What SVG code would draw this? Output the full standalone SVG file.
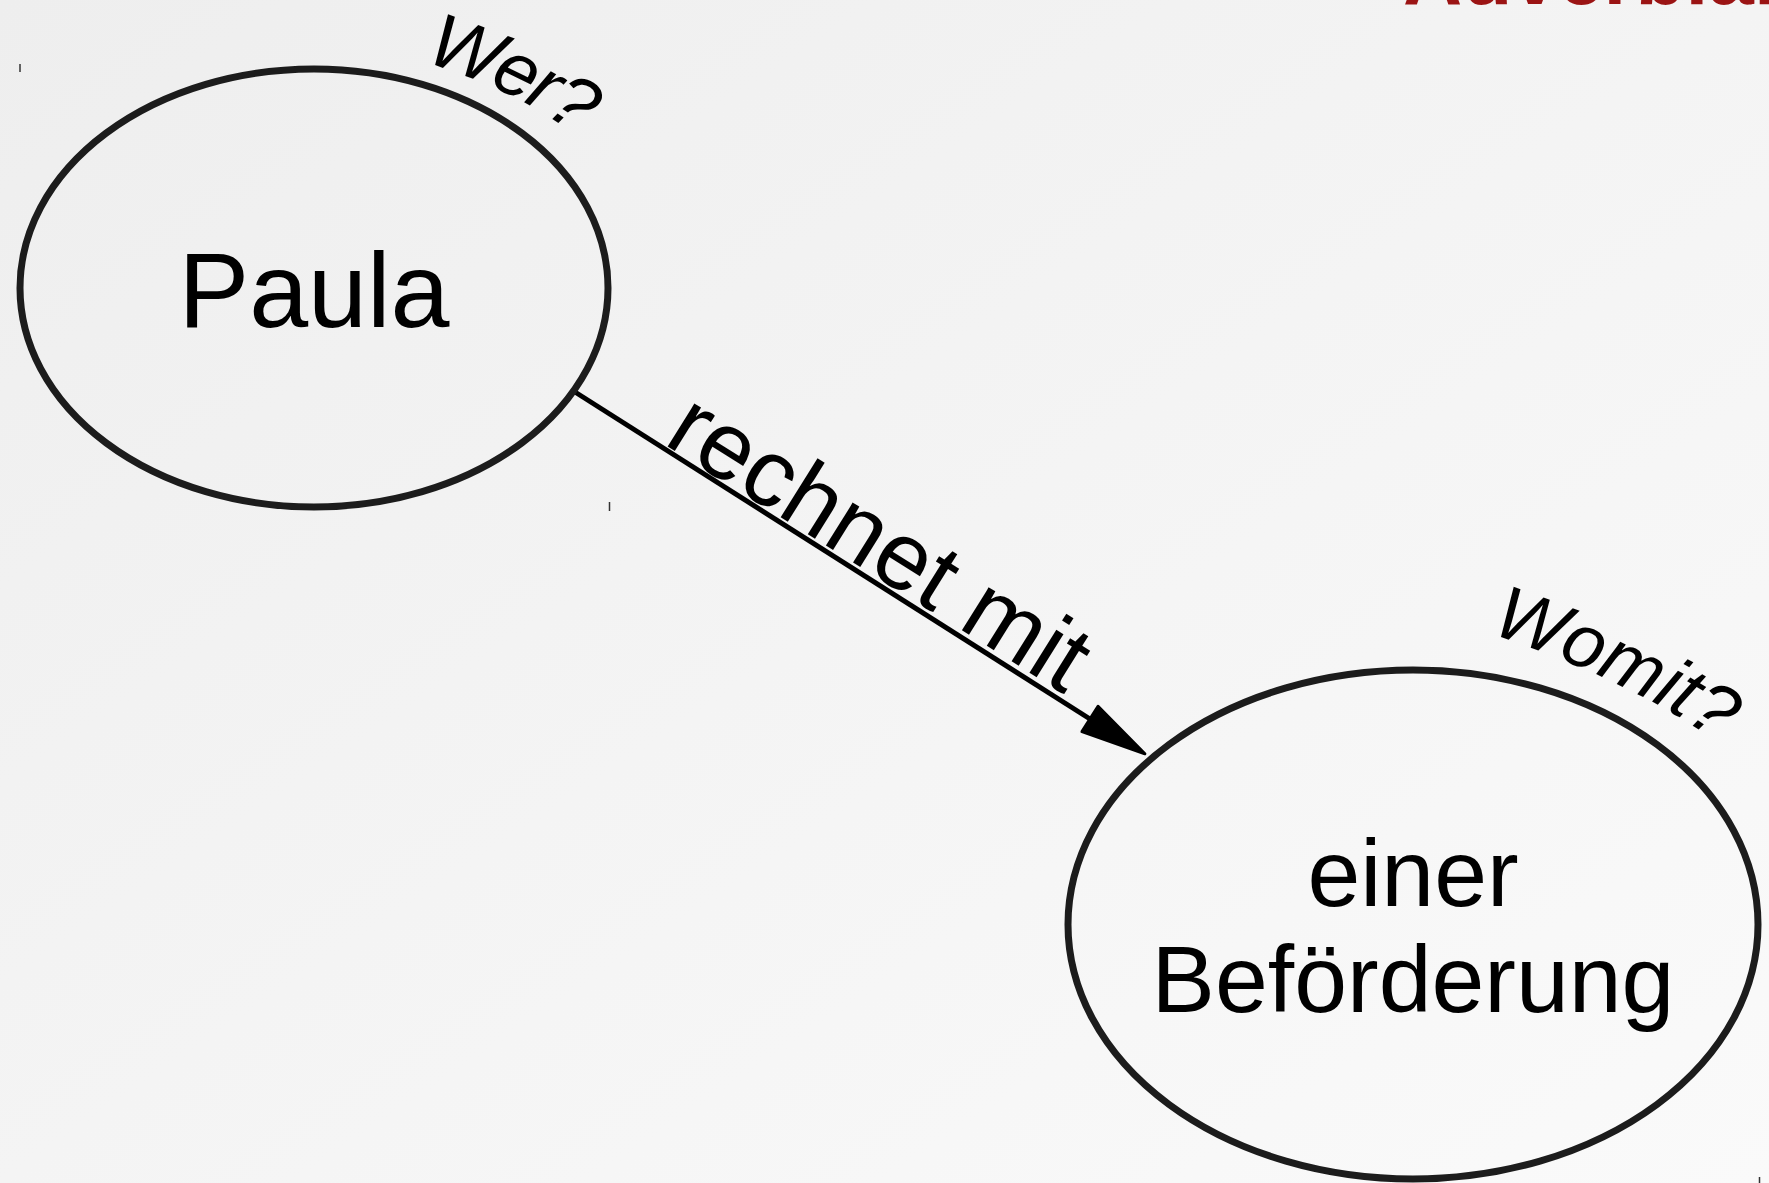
<svg xmlns="http://www.w3.org/2000/svg" width="1769" height="1183" viewBox="0 0 1769 1183">
  <defs>
    <linearGradient id="bg" x1="0" y1="0" x2="1" y2="1">
      <stop offset="0" stop-color="#eeeeee"/>
      <stop offset="1" stop-color="#fafafa"/>
    </linearGradient>
    <marker id="arrow" markerUnits="userSpaceOnUse" markerWidth="80" markerHeight="40" viewBox="-4 -20 76 40" refX="0" refY="0" orient="auto">
      <path d="M0,-15 L65,0 L0,15 Z" fill="#000" stroke="#000" stroke-width="3" stroke-linejoin="round"/>
    </marker>
    <style>
      .node { fill: none; stroke: #1c1c1c; stroke-width: 7; }
      .label { font-family: "Liberation Sans", Arial, sans-serif; fill: #000; }
      .q { font-family: "Liberation Sans", Arial, sans-serif; font-style: italic; fill: #000; }
      .edge { stroke: #000; stroke-width: 5; fill: none; }
      .tick { stroke: #333; stroke-width: 1.5; }
    </style>
  </defs>
  <rect x="0" y="0" width="1769" height="1183" fill="url(#bg)"/>

  <text x="1403" y="4" font-family="Liberation Sans, Arial, sans-serif" font-weight="bold" font-size="82" fill="#9b1414">Adverbiale</text>

  <line class="tick" x1="20" y1="64" x2="20" y2="72"/>
  <line class="tick" x1="609.5" y1="502" x2="609.5" y2="511"/>
  <line class="tick" x1="1759.5" y1="1177" x2="1759.5" y2="1183"/>

  <g id="connectors">
    <line class="edge" x1="575" y1="392" x2="1090" y2="719" marker-end="url(#arrow)"/>
    <text class="label" font-size="96" transform="translate(662 443) rotate(32)" x="0" y="0">rechnet mit</text>
  </g>

  <g id="node-paula">
    <ellipse class="node" cx="314" cy="288" rx="294" ry="219"/>
    <text class="label" x="314" y="327" font-size="106" text-anchor="middle">Paula</text>
    <text class="q" font-size="76" x="424 487.9 523 542.9" y="61 84.3 101.4 112.9" rotate="20 26 30 33">Wer?</text>
  </g>

  <g id="node-befoerderung">
    <ellipse class="node" cx="1413" cy="924.5" rx="345" ry="254.5"/>
    <text class="label" x="1413" y="906" font-size="95" text-anchor="middle">einer</text>
    <text class="label" x="1413" y="1012" font-size="95" text-anchor="middle">Beförderung</text>
    <text class="q" font-size="75" x="1490 1556.5 1594.9 1651.1 1665.7 1683.6" y="633 657.2 673.5 700.9 709 719.8" rotate="20 23 26 29 31 33">Womit?</text>
  </g>
</svg>
